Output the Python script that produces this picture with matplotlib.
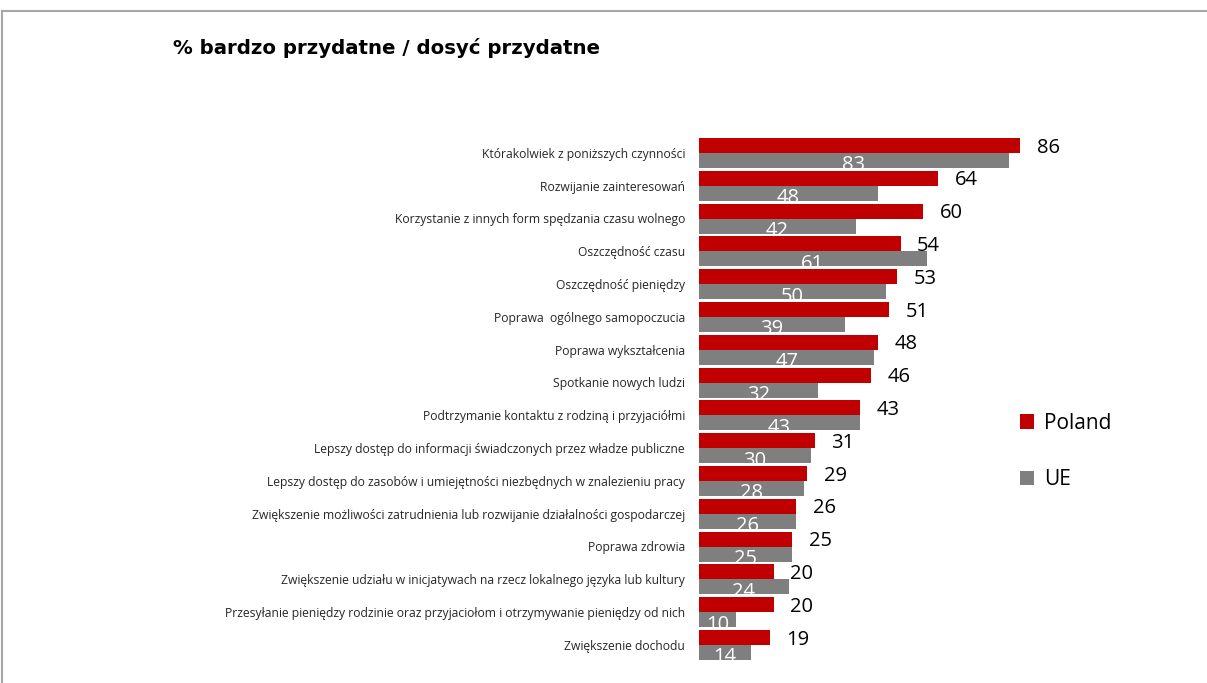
import numpy as np
import matplotlib.pyplot as plt
from matplotlib.lines import Line2D

# ---------------------------------------
# DATA
# ---------------------------------------
categories = [
    "Którakolwiek z poniższych czynności",
    "Rozwijanie zainteresowań",
    "Korzystanie z innych form spędzania czasu wolnego",
    "Oszczędność czasu",
    "Oszczędność pieniędzy",
    "Poprawa  ogólnego samopoczucia",
    "Poprawa wykształcenia",
    "Spotkanie nowych ludzi",
    "Podtrzymanie kontaktu z rodziną i przyjaciółmi",
    "Lepszy dostęp do informacji świadczonych przez władze publiczne",
    "Lepszy dostęp do zasobów i umiejętności niezbędnych w znalezieniu pracy",
    "Zwiększenie możliwości zatrudnienia lub rozwijanie działalności gospodarczej",
    "Poprawa zdrowia",
    "Zwiększenie udziału w inicjatywach na rzecz lokalnego języka lub kultury",
    "Przesyłanie pieniędzy rodzinie oraz przyjaciołom i otrzymywanie pieniędzy od nich",
    "Zwiększenie dochodu",
]
poland = [86, 64, 60, 54, 53, 51, 48, 46, 43, 31, 29, 26, 25, 20, 20, 19]
ue = [83, 48, 42, 61, 50, 39, 47, 32, 43, 30, 28, 26, 25, 24, 10, 14]

RED = "#C00000"
GREY = "#7F7F7F"
FONT = "Open Sans"

W, H = 1207, 683
fig = plt.figure(figsize=(W / 100, H / 100), dpi=100)

# axes placed in pixel terms: x=0 at 699px, 3.733 px per unit
ax_top, ax_bot = 136.6, 661.4
ax = fig.add_axes([699 / W, 1 - ax_bot / H, 373.3 / W, (ax_bot - ax_top) / H])
ax.set_xlim(0, 100)
ax.set_ylim(15.5, -0.5)
ax.axis("off")

y = np.arange(len(categories))
bh = 0.457
bars_pl = ax.barh(y - bh / 2, poland, height=bh, color=RED, label="Poland")
bars_ue = ax.barh(y + bh / 2, ue, height=bh, color=GREY, label="UE")

# value labels
for yi, v in zip(y, poland):
    ax.annotate(str(v), (v, yi - bh / 2), xytext=(12, -1.5), textcoords="offset points",
                ha="left", va="center", fontsize=14.5, family=FONT, color="black")
for yi, v in zip(y, ue):
    ax.annotate(str(v), (v / 2, yi + bh / 2), xytext=(0, -3.5), textcoords="offset points",
                ha="center", va="center", fontsize=14.5, family=FONT, color="white",
                clip_on=False)

# category labels to the left of the bars
for yi, c in zip(y, categories):
    ax.annotate(c, (0, yi), xytext=(-10, -1), textcoords="offset points",
                ha="right", va="center", fontsize=8.7, family=FONT, color="#262626")

# title
fig.text(173 / W, 1 - 48 / H, "% bardzo przydatne / dosyć przydatne",
         fontsize=14.2, fontweight="bold", family="DejaVu Sans", va="center", ha="left")

# legend
fig.legend(handles=[bars_pl, bars_ue], labels=["Poland", "UE"],
           loc="upper left", bbox_to_anchor=(1001 / W, 1 - 394 / H),
           frameon=False, handlelength=0.7, handleheight=0.7,
           handletextpad=0.45, labelspacing=1.7, prop={"family": FONT, "size": 15})

# outer frame (top and left edges)
fig.add_artist(Line2D([2 / W, 1], [1 - 11 / H, 1 - 11 / H], color="#A6A6A6", lw=1.5))
fig.add_artist(Line2D([2 / W, 2 / W], [0, 1 - 11 / H], color="#A6A6A6", lw=1.5))

fig.savefig("out.png", dpi=100)
